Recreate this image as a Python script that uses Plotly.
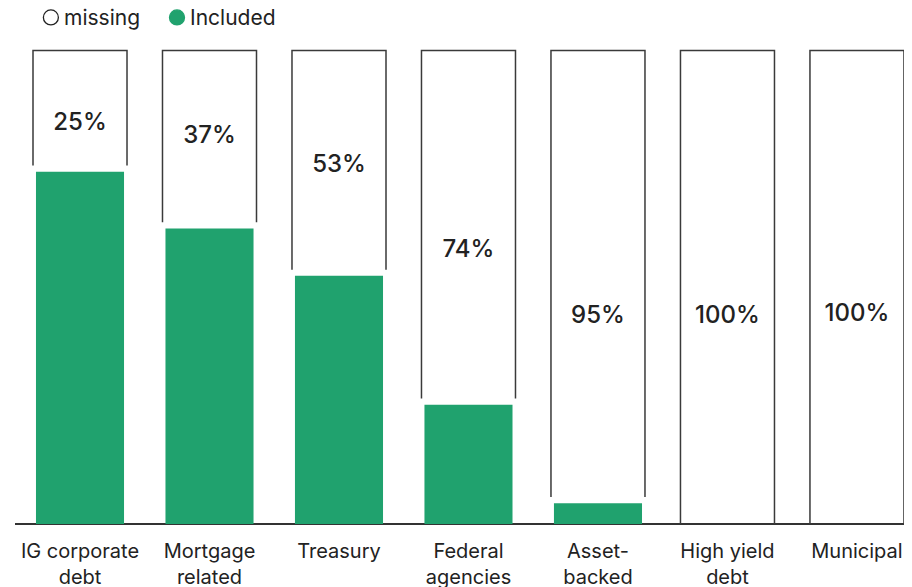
import plotly.graph_objects as go

categories = ["IG corporate<br>debt", "Mortgage<br>related", "Treasury", "Federal<br>agencies",
              "Asset-<br>backed", "High yield<br>debt", "Municipal"]
missing_pct = [25, 37, 53, 74, 95, 100, 100]
included_height = [74.4, 62.4, 52.4, 25.2, 4.4, 0, 0]
label_y = [84.4, 81.7, 75.7, 57.6, 43.8, 43.8, 44.2]

GREEN = "#20A26E"
x = list(range(len(categories)))
half_w = 0.363
gap = 1.3

fig = go.Figure()

fig.add_trace(go.Bar(x=x, y=included_height, width=0.68, marker=dict(color=GREEN, line=dict(width=0)),
                     showlegend=False, hoverinfo="skip"))

ox, oy = [], []
for i, inc in enumerate(included_height):
    bottom = inc + gap if inc > 0 else 0
    ox += [i - half_w, i - half_w, i + half_w, i + half_w, None]
    oy += [bottom, 100, 100, bottom, None]
fig.add_trace(go.Scatter(x=ox, y=oy, mode="lines", line=dict(color="#3a3a3a", width=1.5),
                         showlegend=False, hoverinfo="skip"))

fig.add_trace(go.Scatter(x=x, y=label_y, mode="text", text=[f"{v}%" for v in missing_pct],
                         textfont=dict(family="Inter", size=24, color="#222222", weight=500),
                         showlegend=False, hoverinfo="skip"))

# Manual legend (paper coordinates, pixel-sized markers)
leg_y = 1.0488
legend_items = [("missing", "white", "#222222"), ("Included", GREEN, GREEN)]
leg_x = [0.040, 0.1806]
for (name, fill, line_col), lx in zip(legend_items, leg_x):
    fig.add_shape(type="circle", xref="paper", yref="paper", xsizemode="pixel", ysizemode="pixel",
                  xanchor=lx, yanchor=leg_y, x0=-7.5, x1=7.5, y0=-7.5, y1=7.5,
                  fillcolor=fill, line=dict(color=line_col, width=1.3))
    fig.add_annotation(xref="paper", yref="paper", x=lx, y=leg_y, xshift=11, text=name,
                       showarrow=False, xanchor="left", yanchor="middle",
                       font=dict(family="Inter", size=21, color="#222222"))

fig.update_layout(
    width=912, height=587,
    margin=dict(l=7, r=8, t=33, b=71),
    plot_bgcolor="white", paper_bgcolor="white",
    font=dict(family="Inter", size=20, color="#222222"),
    barmode="overlay",
    showlegend=False,
    xaxis=dict(range=[-0.502, 6.425], tickvals=x, ticktext=categories, showgrid=False,
               zeroline=False, showline=False, ticks="", ticklabelstandoff=13,
               tickfont=dict(size=20, color="#222222")),
    yaxis=dict(range=[0, 102], showgrid=False, zeroline=True, zerolinecolor="#333333",
               zerolinewidth=2, showticklabels=False, ticks="", showline=False),
)

fig.write_html("out.html")
